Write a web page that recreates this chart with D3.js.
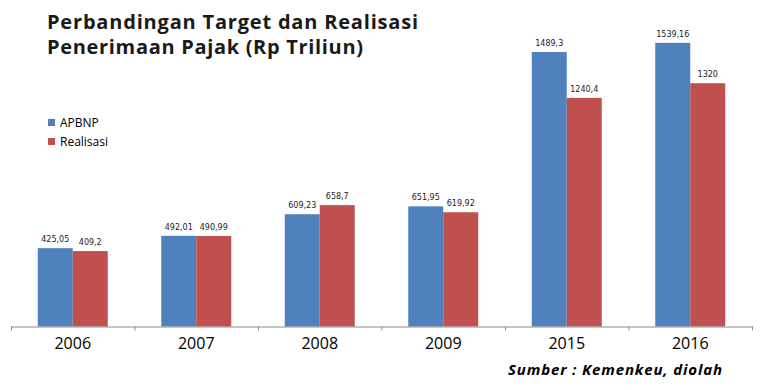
<!DOCTYPE html>
<html>
<head>
<meta charset="utf-8">
<script src="https://cdn.jsdelivr.net/npm/d3@7"></script>
<style>
  body { margin: 0; background: #fff; }
</style>
</head>
<body>
<svg id="chart"></svg>
<script>
// data
var years = ["2006", "2007", "2008", "2009", "2015", "2016"];
var apbnp = [425.05, 492.01, 609.23, 651.95, 1489.3, 1539.16];
var realisasi = [409.2, 490.99, 658.7, 619.92, 1240.4, 1320];
var apbnpLabels = ["425,05", "492,01", "609,23", "651,95", "1489,3", "1539,16"];
var realisasiLabels = ["409,2", "490,99", "658,7", "619,92", "1240,4", "1320"];
var seriesNames = ["APBNP", "Realisasi"];
var colors = ["#4F81BD", "#C0504D"];

var svgWidth = 780, svgHeight = 390;
var svg = d3.select("#chart").attr("width", svgWidth).attr("height", svgHeight);

var x = d3.scaleBand().domain(years).range([11, 752]);
var xInner = d3.scaleBand().domain([0, 1]).range([0, 70]);
var y = d3.scaleLinear().domain([0, 1700]).range([326.5, 13.2]);

var series = [apbnp, realisasi];
var labels = [apbnpLabels, realisasiLabels];

// stretch a text to a target width with letter spacing
function fitWidth(sel, w) {
  var n = sel.text().length;
  var cur = sel.node().getComputedTextLength();
  sel.attr("letter-spacing", ((w - cur) / (n - 1)).toFixed(2));
}

// bars
series.forEach(function (vals, s) {
  var g = svg.append("g");
  g.selectAll("rect")
    .data(vals)
    .enter()
    .append("rect")
    .attr("x", function (d, i) { return x(years[i]) + x.bandwidth() / 2 - 35 + xInner(s); })
    .attr("y", function (d) { return y(d); })
    .attr("width", xInner.bandwidth())
    .attr("height", function (d) { return y(0) - y(d); })
    .attr("fill", colors[s]);

  g.selectAll("text")
    .data(vals)
    .enter()
    .append("text")
    .attr("x", function (d, i) { return x(years[i]) + x.bandwidth() / 2 - 35 + xInner(s) + xInner.bandwidth() / 2; })
    .attr("y", function (d) { return y(d) - 6; })
    .attr("text-anchor", "middle")
    .attr("font-family", "DejaVu Sans")
    .attr("font-size", 8)
    .attr("fill", "#222")
    .text(function (d, i) { return labels[s][i]; });
});

// axis
var axis = svg.append("g")
  .attr("transform", "translate(0," + y(0) + ")")
  .call(d3.axisBottom(x).tickSize(0).tickPadding(0).tickFormat(""));
axis.select(".domain").attr("stroke", "#8c8c8c").attr("d", "M" + x.range()[0] + ",0.5H" + (x.range()[1] + 1));
axis.selectAll(".tick").remove();

// tick marks between categories
var bounds = years.map(function (d) { return x(d); }).concat([x.range()[1]]);
axis.selectAll("line.bound")
  .data(bounds)
  .enter()
  .append("line")
  .attr("class", "bound")
  .attr("x1", function (d) { return d + 0.5; })
  .attr("x2", function (d) { return d + 0.5; })
  .attr("y1", 0)
  .attr("y2", 4)
  .attr("stroke", "#8c8c8c");

// year labels
svg.append("g")
  .selectAll("text")
  .data(years)
  .enter()
  .append("text")
  .attr("x", function (d) { return x(d) + x.bandwidth() / 2; })
  .attr("y", 349)
  .attr("text-anchor", "middle")
  .attr("font-family", "Open Sans")
  .attr("font-size", 16)
  .attr("fill", "#000")
  .text(function (d) { return d; });

// title
var t1 = svg.append("text")
  .attr("x", 47).attr("y", 28.5)
  .attr("font-family", "Open Sans")
  .attr("font-weight", "bold")
  .attr("font-size", 20)
  .attr("fill", "#1a1a1a")
  .text("Perbandingan Target dan Realisasi");
fitWidth(t1, 371);
var t2 = svg.append("text")
  .attr("x", 47).attr("y", 53.5)
  .attr("font-family", "Open Sans")
  .attr("font-weight", "bold")
  .attr("font-size", 20)
  .attr("fill", "#1a1a1a")
  .text("Penerimaan Pajak (Rp Triliun)");
fitWidth(t2, 316);

// legend
var legend = svg.append("g");
seriesNames.forEach(function (name, i) {
  legend.append("rect")
    .attr("x", 48)
    .attr("y", 119 + i * 19)
    .attr("width", 7)
    .attr("height", 7)
    .attr("fill", colors[i]);
  legend.append("text")
    .attr("x", 60)
    .attr("y", 127 + i * 19)
    .attr("font-family", "Open Sans")
    .attr("font-size", 12)
    .attr("fill", "#000")
    .text(name);
});

// source
var src = svg.append("text")
  .attr("x", 508)
  .attr("y", 375)
  .attr("font-family", "Open Sans")
  .attr("font-weight", "bold")
  .attr("font-style", "italic")
  .attr("font-size", 15)
  .attr("fill", "#000")
  .text("Sumber : Kemenkeu,  diolah");
fitWidth(src, 215);
</script>
</body>
</html>
